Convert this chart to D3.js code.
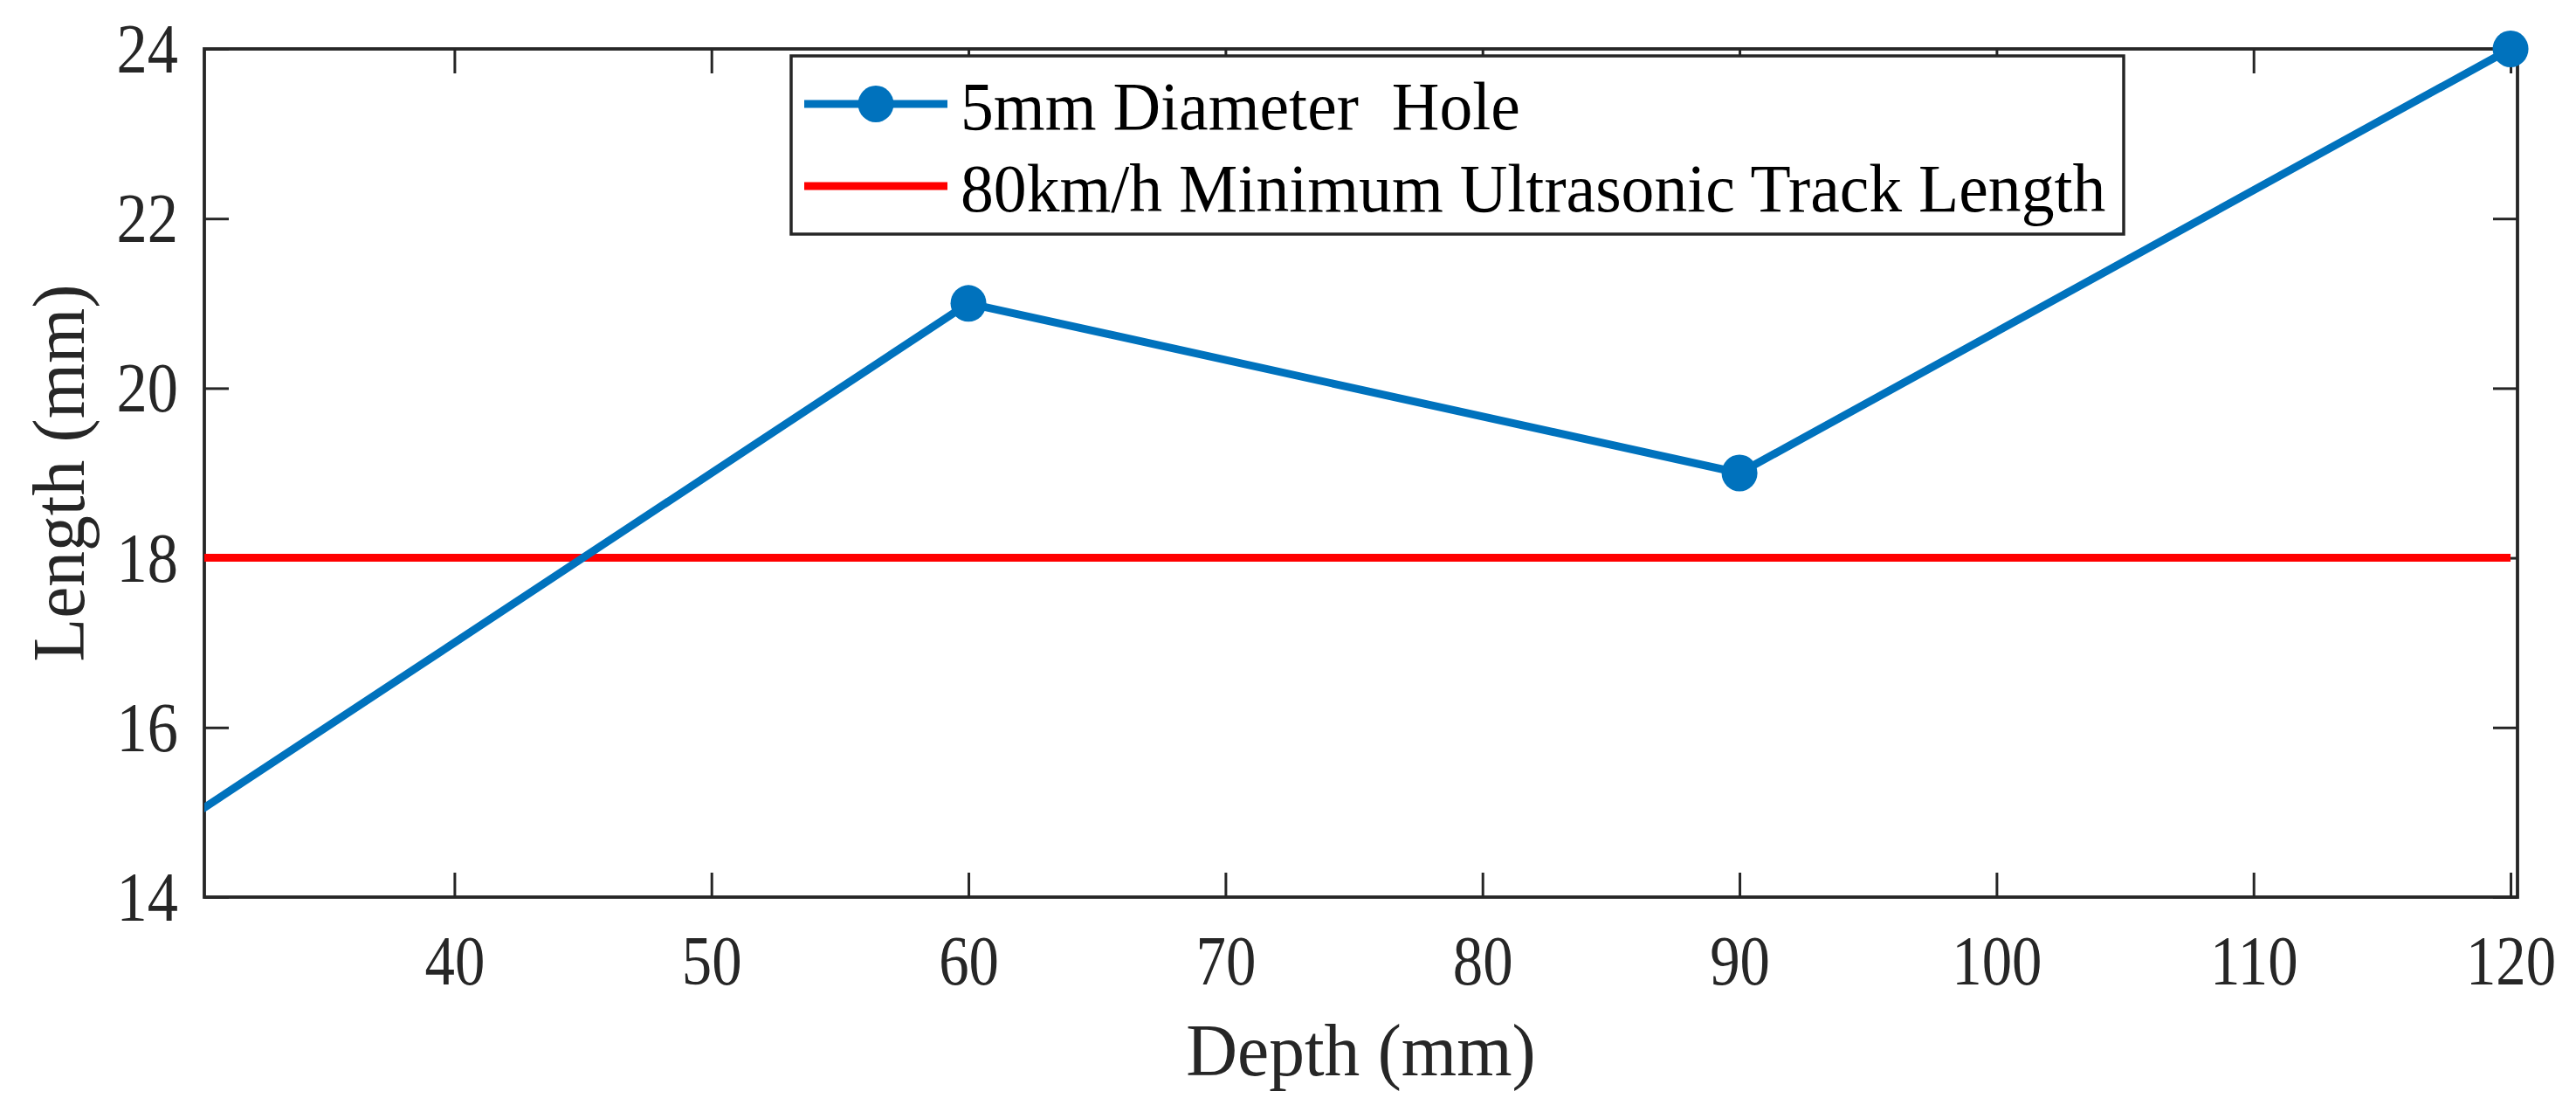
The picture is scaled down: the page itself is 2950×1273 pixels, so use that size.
<!DOCTYPE html>
<html>
<head>
<meta charset="utf-8">
<script src="https://cdnjs.cloudflare.com/ajax/libs/d3/7.8.5/d3.min.js"></script>
<style>
  body { margin: 0; background: #fff; }
  svg text { font-family: "Liberation Serif", "Times New Roman", serif; }
</style>
</head>
<body>
<div id="chart"></div>
<script>
// hole depth vs ultrasonic track length
const depths = [30, 60, 90, 120];
const holeLength = [15, 21, 19, 24];
const limitDepth = [30, 120];
const limitLength = [18, 18];

const xTicks = [40, 50, 60, 70, 80, 90, 100, 110, 120];
const yTicks = [14, 16, 18, 20, 22, 24];
const xLimits = [30.27, 120.27];
const yLimits = [14, 24];

const seriesNames = ["5mm Diameter  Hole", "80km/h Minimum Ultrasonic Track Length"];

const W = 2950, H = 1273;
const margin = {top: 56, right: 67, bottom: 246, left: 234};
const width = W - margin.left - margin.right;
const height = H - margin.top - margin.bottom;

const fontFamily = '"Liberation Serif", "Times New Roman", serif';
const axisColor = "#262626";
const blue = "#0072BD";
const red = "#FF0000";

const svg = d3.select("#chart").append("svg")
    .attr("width", W)
    .attr("height", H)
    .attr("font-family", fontFamily);

const g = svg.append("g")
    .attr("transform", `translate(${margin.left},${margin.top})`);

const x = d3.scaleLinear().domain(xLimits).range([0, width]);
const y = d3.scaleLinear().domain(yLimits).range([height, 0]);

// squeeze text horizontally a bit, the original glyphs are narrower
function squeeze(sel, k) {
    sel.each(function() {
        const w = this.getComputedTextLength();
        d3.select(this).attr("textLength", w * k).attr("lengthAdjust", "spacingAndGlyphs");
    });
}

const tickLen = 28;

function styleAxis(ax) {
    ax.attr("font-family", fontFamily).attr("font-size", 80);
    ax.select(".domain").remove();
    ax.selectAll(".tick line").attr("stroke", axisColor).attr("stroke-width", 3);
    ax.selectAll(".tick text")
        .attr("fill", axisColor)
        .style("font-family", fontFamily)
        .style("font-size", "80px");
}

// bottom axis with labels
const xAxis = g.append("g")
    .attr("transform", `translate(0,${height})`)
    .call(d3.axisBottom(x).tickValues(xTicks).tickSizeInner(-tickLen).tickSizeOuter(0).tickPadding(43));
styleAxis(xAxis);
squeeze(xAxis.selectAll(".tick text"), 0.86);

// left axis with labels
const yAxis = g.append("g")
    .call(d3.axisLeft(y).tickValues(yTicks).tickSizeInner(-tickLen).tickSizeOuter(0).tickPadding(30));
styleAxis(yAxis);
yAxis.selectAll(".tick text").attr("dy", "0.33em");
squeeze(yAxis.selectAll(".tick text"), 0.88);

// top and right ticks only
const xTop = g.append("g")
    .call(d3.axisTop(x).tickValues(xTicks).tickSizeInner(-tickLen).tickSizeOuter(0).tickFormat(""));
styleAxis(xTop);
const yRight = g.append("g")
    .attr("transform", `translate(${width},0)`)
    .call(d3.axisRight(y).tickValues(yTicks).tickSizeInner(-tickLen).tickSizeOuter(0).tickFormat(""));
styleAxis(yRight);

// box
g.append("rect")
    .attr("width", width)
    .attr("height", height)
    .attr("fill", "none")
    .attr("stroke", axisColor)
    .attr("stroke-width", 3.8);

// clip for lines
svg.append("defs").append("clipPath")
    .attr("id", "plot-clip")
    .append("rect")
    .attr("width", width)
    .attr("height", height);

const line = d3.line()
    .x(d => x(d[0]))
    .y(d => y(d[1]));

const holeData = depths.map((d, i) => [d, holeLength[i]]);
const limitData = limitDepth.map((d, i) => [d, limitLength[i]]);

const plot = g.append("g");

plot.append("path")
    .datum(limitData)
    .attr("clip-path", "url(#plot-clip)")
    .attr("fill", "none")
    .attr("stroke", red)
    .attr("stroke-width", 9)
    .attr("d", line);

plot.append("path")
    .datum(holeData)
    .attr("clip-path", "url(#plot-clip)")
    .attr("fill", "none")
    .attr("stroke", blue)
    .attr("stroke-width", 9)
    .attr("stroke-linejoin", "round")
    .attr("d", line);

// markers only for points inside the limits
plot.selectAll(".marker")
    .data(holeData.filter(d => d[0] >= xLimits[0] && d[0] <= xLimits[1]))
    .join("ellipse")
    .attr("class", "marker")
    .attr("cx", d => x(d[0]))
    .attr("cy", d => y(d[1]))
    .attr("rx", 20.5)
    .attr("ry", 21)
    .attr("fill", blue);

// x and y titles
const xTitle = svg.append("text")
    .attr("x", margin.left + width / 2)
    .attr("y", 1231)
    .attr("text-anchor", "middle")
    .attr("fill", axisColor)
    .style("font-size", "84px")
    .text("Depth (mm)");
squeeze(xTitle, 0.97);

const yTitle = svg.append("text")
    .attr("transform", `translate(96,${margin.top + height / 2}) rotate(-90)`)
    .attr("text-anchor", "middle")
    .attr("fill", axisColor)
    .style("font-size", "84px")
    .text("Length (mm)");
squeeze(yTitle, 0.97);

// legend
const legend = svg.append("g");
legend.append("rect")
    .attr("x", 906)
    .attr("y", 64)
    .attr("width", 1526)
    .attr("height", 204)
    .attr("fill", "#fff")
    .attr("stroke", axisColor)
    .attr("stroke-width", 3.5);

const rowsY = [119, 213];
const legendColors = [blue, red];

seriesNames.forEach((name, i) => {
    legend.append("line")
        .attr("x1", 921).attr("x2", 1085)
        .attr("y1", rowsY[i]).attr("y2", rowsY[i])
        .attr("stroke", legendColors[i])
        .attr("stroke-width", 9);
    if (i === 0) {
        legend.append("ellipse")
            .attr("cx", 1003).attr("cy", rowsY[i])
            .attr("rx", 20.5).attr("ry", 21)
            .attr("fill", blue);
    }
    const t = legend.append("text")
        .attr("x", 1100)
        .attr("y", rowsY[i] + 29)
        .attr("fill", "#000")
        .style("font-size", "78px")
        .style("white-space", "pre")
        .text(name);
    squeeze(t, 0.97);
});
</script>
</body>
</html>
